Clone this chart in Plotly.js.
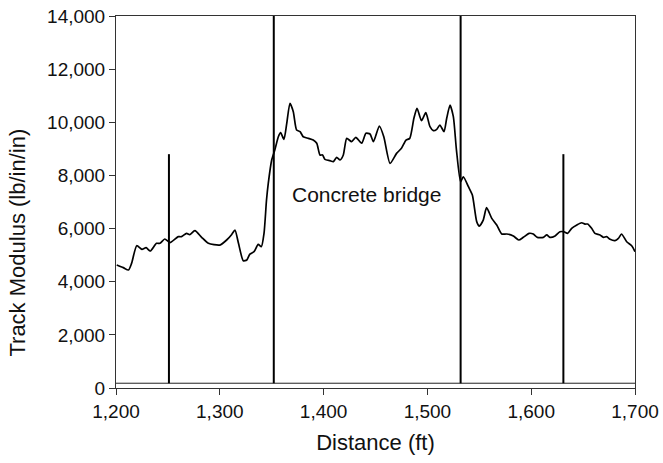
<!DOCTYPE html>
<html>
<head>
<meta charset="utf-8">
<script src="https://cdn.plot.ly/plotly-3.0.1.min.js"></script>
<style>
  html, body { margin: 0; padding: 0; background: #fff; }
  #chart { width: 663px; height: 463px; }
</style>
</head>
<body>
<div id="chart"></div>
<script>
// Track modulus measured along the line (ft vs lb/in/in)
const distance = [
  1200.7, 1207, 1212, 1215, 1220, 1225, 1229, 1233, 1239, 1242.4, 1247, 1252,
  1260, 1263, 1268, 1271, 1276, 1282.5, 1289, 1300, 1306.6, 1311.5, 1314.6, 1318,
  1322.6, 1326, 1329, 1333, 1337, 1340, 1342.6, 1345, 1346.7, 1350, 1353, 1356.4,
  1358.6, 1361.8, 1364.5, 1367.6, 1370.8, 1374, 1377.3, 1380.4, 1385.3, 1390, 1393.4,
  1396.5, 1399, 1401.3, 1406, 1409.4, 1412.6, 1415.8, 1419, 1422.3, 1427, 1431,
  1436.7, 1440.8, 1444.7, 1448, 1453.7, 1458, 1464, 1470.3, 1475, 1479.4, 1483,
  1487, 1490, 1494.3, 1498.5, 1502.5, 1505.7, 1509, 1512, 1516, 1518.6, 1521.8,
  1525, 1528, 1532, 1534.6, 1539.5, 1543.3, 1547.5, 1550, 1553.8, 1557, 1562,
  1566.8, 1571.6, 1576.4, 1582.8, 1588, 1592.4, 1598, 1602, 1605.9, 1611.7, 1615,
  1618, 1623, 1627.7, 1631.6, 1635, 1639, 1644, 1648.6, 1651.8, 1654.4, 1658.2,
  1661.4, 1666.3, 1669.5, 1672.7, 1676, 1680.7, 1684, 1687, 1692, 1697, 1700
];
const modulus = [
  4630, 4530, 4440, 4690, 5355, 5220, 5280, 5155, 5445, 5445, 5607, 5470,
  5695, 5695, 5820, 5770, 5920, 5670, 5445, 5380, 5570, 5780, 5945, 5445,
  4790, 4815, 5040, 5130, 5405, 5315, 5820, 7075, 7700, 8580, 8955, 9455,
  9610, 9360, 9960, 10715, 10400, 9710, 9650, 9455, 9395, 9330, 9210,
  8770, 8770, 8605, 8555, 8520, 8680, 8580, 8770, 9395, 9270, 9435,
  9210, 9585, 9560, 9270, 9860, 9455, 8455, 8830, 9020, 9330, 9395,
  10150, 10525, 10060, 10360, 9835, 9685, 9735, 9895, 9650, 10150, 10650,
  10210, 8955, 7765, 7950, 7575, 7260, 6260, 6095, 6320, 6785, 6385,
  6135, 5795, 5795, 5720, 5570, 5670, 5820, 5795, 5670, 5670, 5760,
  5670, 5720, 5880, 5880, 5820, 6010, 6135, 6220, 6170, 6170, 6010,
  5820, 5760, 5670, 5695, 5595, 5545, 5630, 5795, 5505, 5345, 5130
];

// Marker posts along the track and the reference rail line
const markerDistance = [1251, 1352, 1532, 1631];
const markerTop = [8800, 14000, 14000, 8800];
const railLevel = 180;
const xExtent = [1200, 1700];

const xTicks = [1200, 1300, 1400, 1500, 1600, 1700];
const yTicks = [0, 2000, 4000, 6000, 8000, 10000, 12000, 14000];

const FONT = 'Liberation Sans, Arial, Helvetica, sans-serif';
const TICK_SIZE = 19;
const TITLE_SIZE = 22;

const traces = [];

traces.push({
  x: xExtent,
  y: [railLevel, railLevel],
  mode: 'lines',
  line: { color: '#222', width: 1 },
  hoverinfo: 'skip',
  showlegend: false
});

markerDistance.forEach((d, i) => {
  traces.push({
    x: [d, d],
    y: [railLevel, markerTop[i]],
    mode: 'lines',
    line: { color: '#000', width: 2 },
    hoverinfo: 'skip',
    showlegend: false
  });
});

traces.push({
  x: distance,
  y: modulus,
  mode: 'lines',
  line: { color: '#000', width: 1.7, shape: 'spline', smoothing: 0.6 },
  showlegend: false
});

const layout = {
  width: 663,
  height: 463,
  margin: { l: 116, r: 28, t: 16, b: 75 },
  paper_bgcolor: '#fff',
  plot_bgcolor: '#fff',
  font: { family: FONT, size: TICK_SIZE, color: '#111' },
  showlegend: false,
  xaxis: {
    range: xExtent,
    tickvals: xTicks,
    ticktext: xTicks.map(v => v.toLocaleString('en-US')),
    ticks: 'outside',
    ticklen: 6,
    tickcolor: '#333',
    showline: true,
    linecolor: '#333',
    linewidth: 1,
    mirror: true,
    showgrid: false,
    zeroline: false,
    tickfont: { family: FONT, size: TICK_SIZE, color: '#111' },
    title: { text: 'Distance (ft)', font: { family: FONT, size: TITLE_SIZE, color: '#111' }, standoff: 13 }
  },
  yaxis: {
    range: [0, 14000],
    tickvals: yTicks,
    ticktext: yTicks.map(v => v.toLocaleString('en-US')),
    ticks: 'outside',
    ticklen: 6,
    tickcolor: '#333',
    showline: true,
    linecolor: '#333',
    linewidth: 1,
    mirror: true,
    showgrid: false,
    zeroline: false,
    tickfont: { family: FONT, size: TICK_SIZE, color: '#111' }
  },
  annotations: [
    {
      // vertical axis label, set a little below the plot's midline
      x: -0.19,
      y: 0.392,
      xref: 'paper',
      yref: 'paper',
      xanchor: 'center',
      yanchor: 'middle',
      textangle: -90,
      text: 'Track Modulus (lb/in/in)',
      showarrow: false,
      font: { family: FONT, size: TITLE_SIZE, color: '#111' }
    },
    {
      x: 1441,
      y: 7300,
      xref: 'x',
      yref: 'y',
      text: 'Concrete bridge',
      showarrow: false,
      font: { family: FONT, size: 21, color: '#111' }
    }
  ]
};

Plotly.newPlot('chart', traces, layout, { displayModeBar: false, staticPlot: true });
</script>
</body>
</html>
